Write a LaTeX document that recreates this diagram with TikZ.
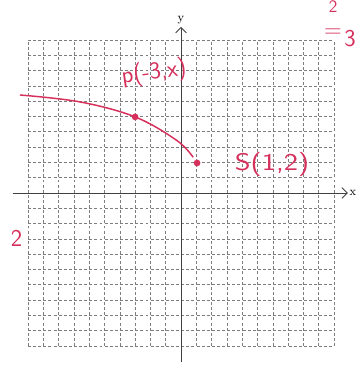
\documentclass[tikz,border=0pt]{standalone}
\usetikzlibrary{arrows.meta}
\definecolor{penna}{RGB}{214,48,92}
\definecolor{matita}{RGB}{125,125,125}
\tikzset{
  scritto/.style={penna, inner sep=0pt, font=\sffamily\fontsize{18}{22}\selectfont},
  punto/.style={circle, fill=penna, inner sep=0pt, minimum size=5pt}
}
\begin{document}
\begin{tikzpicture}[x=0.4cm, y=0.4cm, every node/.append style={font=\small}]
  \useasboundingbox (-11.83,-11.70) rectangle (11.57,12.61);
  % griglia
  \draw[matita, line width=0.45pt, dash pattern=on 2.2pt off 1.6pt, step=1] (-10,-10) grid (10,10);
  % assi
  \draw[black!75, line width=0.6pt, -{Straight Barb[length=4pt,width=8pt]}] (-11,0) -- (10.9,0) node[right, inner sep=1pt, black] (lx) {x};
  \draw[black!75, line width=0.6pt, -{Straight Barb[length=4pt,width=8pt]}] (0,-11.05) -- (0,10.85) node[above, inner sep=2pt, black] (ly) {y};
  % curva
  \draw[penna, line width=1.1pt, line cap=round] plot[smooth, tension=0.6] coordinates
    {(-10.5,6.4) (-6.6,5.95) (-3,4.97) (-0.3,3.45) (0.78,2.35)};
  % punti
  \node[punto] (P) at (-3,4.97) {};
  \node[punto] (S) at (1.05,1.96) {};
  \node[scritto, rotate=8] (lP) at (-1.76,7.84) {p(-3,x)};
  \node[scritto, xscale=1.25] (lS) at (5.95,1.83) {S(1,2)};
  % note a margine
  \node[scritto] (n1) at (-10.75,-2.94) {2};
  \node[scritto, font=\sffamily\fontsize{13}{15}\selectfont] (n2) at (9.95,12.2) {2};
  \node[scritto] (n3) at (9.93,10.45) {=};
  \node[scritto] (n4) at (11.05,10.1) {3};
\end{tikzpicture}
\end{document}
